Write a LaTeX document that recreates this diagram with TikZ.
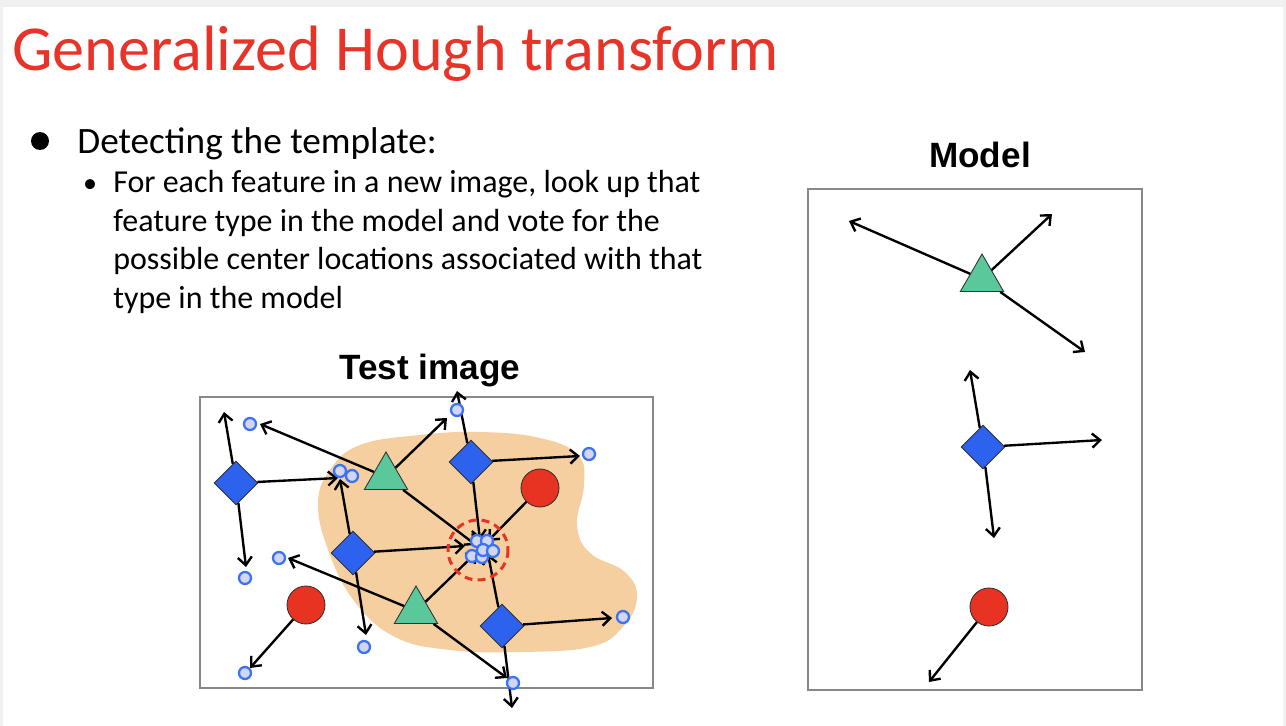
\documentclass[tikz,border=0pt]{standalone}
\usepackage{fontspec}
\setmainfont{Carlito}
\newfontfamily\headfont{Liberation Sans}
\usetikzlibrary{shapes.geometric, arrows.meta}

\definecolor{slidered}{RGB}{232,52,40}
\definecolor{spotcol}{RGB}{246,207,160}
\definecolor{diacol}{RGB}{44,98,238}
\definecolor{tricol}{RGB}{90,200,154}
\definecolor{disccol}{RGB}{232,51,35}
\definecolor{votefill}{RGB}{210,214,242}
\definecolor{votedraw}{RGB}{60,115,245}
\definecolor{framecol}{RGB}{136,136,136}

\tikzset{
  feat/.style={draw=black!80, line width=0.5pt, inner sep=0pt},
  dia/.style={feat, diamond, fill=diacol, minimum size=0.88cm},
  tri/.style={feat, regular polygon, regular polygon sides=3, fill=tricol, minimum size=1cm},
  disc/.style={feat, circle, fill=disccol, minimum size=0.76cm},
  vote/.style={circle, draw=votedraw, fill=votefill, line width=1.3pt, minimum size=0.24cm, inner sep=0pt},
  ray/.style={line width=1.35pt, -{Straight Barb[length=4.6pt,width=8pt]}},
  imgframe/.style={draw=framecol, line width=1.2pt},
  heading/.style={font=\headfont\bfseries\fontsize{20}{24}\selectfont}
}

\begin{document}
\begin{tikzpicture}[x=0.02cm, y=-0.02cm]
    % Slide
    \fill[gray!12] (0,0) rectangle (1286,726);
    \fill[white] (3,7) rectangle (1283,726);
    \useasboundingbox (0,0) rectangle (1286,726);

    % Text
    \node[anchor=base west, inner sep=0pt, text=slidered, font=\fontsize{36.5}{43}\selectfont] (title) at (12,71) {Generalized Hough transform};
    \node[circle, fill=black, minimum size=0.36cm, inner sep=0pt] (dot1) at (40,141) {};
    \node[anchor=base west, inner sep=0pt, font=\fontsize{21.2}{25}\selectfont] (lvl1) at (77,154) {Detecting the template:};
    \node[anchor=base, inner sep=0pt, font=\fontsize{16}{22}\selectfont] (dot2) at (90,193) {\textbullet};
    \foreach \txt [count=\i] in {{For each feature in a new image, look up that},
        {feature type in the model and vote for the},
        {possible center locations associated with that},
        {type in the model}}
      \node[anchor=base west, inner sep=0pt, font=\fontsize{18.2}{22}\selectfont] (lvl2-\i) at (113,{193+38.5*(\i-1)}) {\txt};

    % Test image
    \node[heading] (testlbl) at (430,370) {Test image};
    \fill[spotcol] plot[smooth cycle, tension=0.7] coordinates {
      (330,470) (360,445) (420,435) (480,432) (540,438) (578,455) (584,485)
      (577,525) (590,553) (625,572) (637,598) (622,628) (590,647) (520,652)
      (450,650) (395,637) (355,602) (330,555) (318,505)};
    \draw[imgframe] (200,397) rectangle (653,688);

    \node[dia] (d1) at (236,483) {};
    \node[tri] (t1) at (386,477) {};
    \node[dia] (d2) at (471,462) {};
    \node[disc] (c1) at (540,488) {};
    \node[dia] (d3) at (353,553) {};
    \node[tri] (t2) at (416,611) {};
    \node[dia] (d4) at (502,626) {};
    \node[disc] (c2) at (306,605) {};

    \coordinate (d1a) at (224,412);
    \coordinate (d1b) at (338,478);
    \coordinate (d1c) at (246,567);
    \coordinate (t1a) at (260,424);
    \coordinate (t1b) at (447,418);
    \coordinate (t1c) at (476,545);
    \coordinate (d2a) at (457,391);
    \coordinate (d2b) at (580,456);
    \coordinate (d2c) at (480,540);
    \coordinate (c1a) at (488,541);
    \coordinate (d3a) at (340,479);
    \coordinate (d3b) at (465,546);
    \coordinate (d3c) at (366,635);
    \coordinate (t2a) at (288,558);
    \coordinate (t2b) at (477,552);
    \coordinate (t2c) at (507,678);
    \coordinate (d4a) at (488,554);
    \coordinate (d4b) at (612,618);
    \coordinate (d4c) at (512,708);
    \coordinate (c2a) at (250,668);

    \foreach \s in {d1,t1,d2,d3,t2,d4}
      \foreach \e in {a,b,c}
        \draw[ray] (\s) -- (\s\e);
    \draw[ray] (c1) -- (c1a);
    \draw[ray] (c2) -- (c2a);

    % Votes
    \foreach \p [count=\k] in {(250,424),(457,410),(340,471),(352,476),(589,454),
        (245,578),(279,558),(364,647),(245,673),(513,683),(623,617),
        (477,541),(487,541),(472,556),(482,557),(483,550),(493,551)}
      \node[vote] (v\k) at \p {};
    \draw[disccol, line width=1.7pt, dash pattern=on 4.5pt off 3pt] (478,550) circle[radius=30];

    % Model
    \node[heading] (modellbl) at (980,155) {Model};
    \draw[imgframe] (808,189) rectangle (1142,690);

    \node[tri] (mt) at (982,279) {};
    \node[dia] (md) at (983,447) {};
    \node[disc] (mc) at (989,607) {};

    \coordinate (mta) at (849,221);
    \coordinate (mtb) at (1052,214);
    \coordinate (mtc) at (1085,352);
    \coordinate (mda) at (970,370);
    \coordinate (mdb) at (1102,440);
    \coordinate (mdc) at (994,538);
    \coordinate (mca) at (929,682);

    \foreach \e in {a,b,c} {
      \draw[ray] (mt) -- (mt\e);
      \draw[ray] (md) -- (md\e);
    }
    \draw[ray] (mc) -- (mca);
\end{tikzpicture}
\end{document}
